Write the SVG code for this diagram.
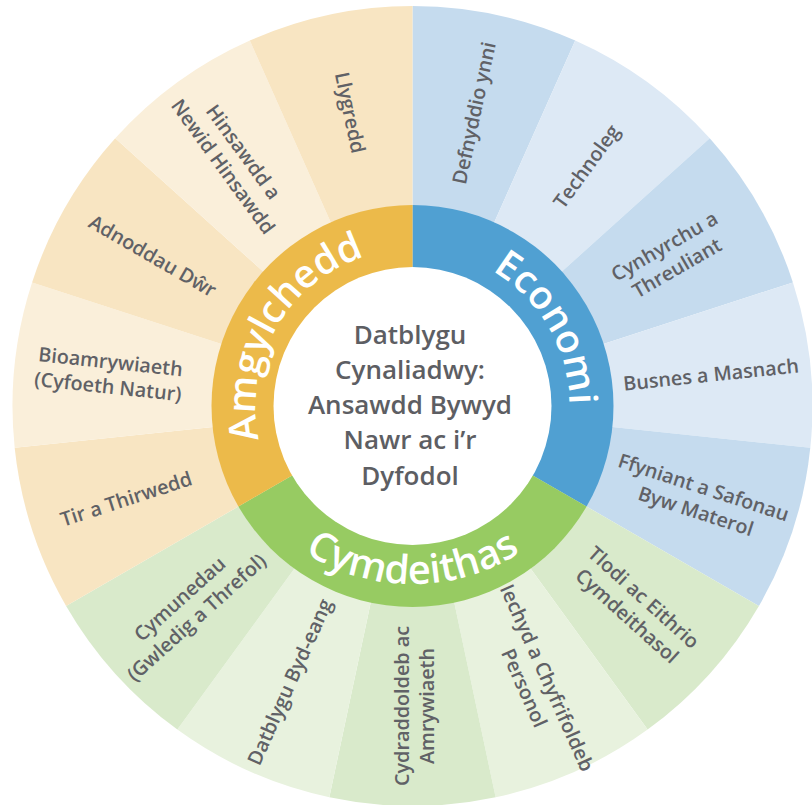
<svg xmlns="http://www.w3.org/2000/svg" width="812" height="805" viewBox="0 0 812 805">
<style>
.lbl{font-family:"Open Sans","Noto Sans","DejaVu Sans",sans-serif;font-size:19.8px;font-weight:600;fill:#606166;text-anchor:middle}
.ring{font-family:"Open Sans","Noto Sans","DejaVu Sans",sans-serif;font-size:39px;font-weight:600;fill:#ffffff}
.ctr{font-family:"Open Sans","Noto Sans","DejaVu Sans",sans-serif;font-size:26px;font-weight:600;fill:#5d5e63;text-anchor:middle}
.oD{fill:#f8e5c2}.oL{fill:#faefda}
.bD{fill:#c5dbee}.bL{fill:#dde9f5}
.gD{fill:#d9eacb}.gL{fill:#e8f2de}
</style>
<defs>
<path id="arcAmg" d="M334,541.97 A157,157 0 0 1 491,270.03"/>
<path id="arcEco" d="M334,270.03 A157,157 0 0 1 491,541.97"/>
<path id="arcCym" d="M212.5,384 A200,200 0 0 0 612.5,384"/>
</defs>
<rect width="812" height="805" fill="#ffffff"/>

<g id="seg-defnyddio">
<path class="bD" d="M412.5,406 L412.5,6 A400,400 0 0 1 575.2,40.58 Z"/>
<text class="lbl" transform="translate(474,113) rotate(-78)"><tspan x="0" y="7">Defnyddio ynni</tspan></text>
</g>
<g id="seg-technoleg">
<path class="bL" d="M412.5,406 L575.2,40.58 A400,400 0 0 1 709.76,138.35 Z"/>
<text class="lbl" transform="translate(586.5,166.5) rotate(-54)"><tspan x="0" y="7">Technoleg</tspan></text>
</g>
<g id="seg-cynhyrchu">
<path class="bD" d="M412.5,406 L709.76,138.35 A400,400 0 0 1 792.92,282.39 Z"/>
<text class="lbl" transform="translate(670.6,257) rotate(-30)"><tspan x="0" y="-5.5">Cynhyrchu a</tspan><tspan x="0" y="19.5">Threuliant</tspan></text>
</g>
<g id="seg-busnes">
<path class="bL" d="M412.5,406 L792.92,282.39 A400,400 0 0 1 810.31,447.81 Z"/>
<text class="lbl" transform="translate(711,374.6) rotate(-6)"><tspan x="0" y="7">Busnes a Masnach</tspan></text>
</g>
<g id="seg-ffyniant">
<path class="bD" d="M412.5,406 L810.31,447.81 A400,400 0 0 1 758.91,606 Z"/>
<text class="lbl" transform="translate(699.7,499.3) rotate(18)"><tspan x="0" y="-5.5">Ffyniant a Safonau</tspan><tspan x="0" y="19.5">Byw Materol</tspan></text>
</g>
<g id="seg-tlodi">
<path class="gD" d="M412.5,406 L758.91,606 A400,400 0 0 1 647.62,729.61 Z"/>
<text class="lbl" transform="translate(635.4,606.7) rotate(42)"><tspan x="0" y="-5.5">Tlodi ac Eithrio</tspan><tspan x="0" y="19.5">Cymdeithasol</tspan></text>
</g>
<g id="seg-iechyd">
<path class="gL" d="M412.5,406 L647.62,729.61 A400,400 0 0 1 495.66,797.26 Z"/>
<text class="lbl" transform="translate(535.7,682.8) rotate(66)"><tspan x="0" y="-5.5">Iechyd a Chyfrifoldeb</tspan><tspan x="0" y="19.5">Personol</tspan></text>
</g>
<g id="seg-cydraddoldeb">
<path class="gD" d="M412.5,406 L495.66,797.26 A400,400 0 0 1 329.34,797.26 Z"/>
<text class="lbl" transform="translate(414,706) rotate(-90)"><tspan x="0" y="-5.5">Cydraddoldeb ac</tspan><tspan x="0" y="19.5">Amrywiaeth</tspan></text>
</g>
<g id="seg-datblygu">
<path class="gL" d="M412.5,406 L329.34,797.26 A400,400 0 0 1 177.38,729.61 Z"/>
<text class="lbl" transform="translate(289.7,681.9) rotate(-66)"><tspan x="0" y="7">Datblygu Byd-eang</tspan></text>
</g>
<g id="seg-cymunedau">
<path class="gD" d="M412.5,406 L177.38,729.61 A400,400 0 0 1 66.09,606 Z"/>
<text class="lbl" transform="translate(188.1,608.1) rotate(-42)"><tspan x="0" y="-5.5">Cymunedau</tspan><tspan x="0" y="19.5">(Gwledig a Threfol)</tspan></text>
</g>
<g id="seg-tir">
<path class="oD" d="M412.5,406 L66.09,606 A400,400 0 0 1 14.69,447.81 Z"/>
<text class="lbl" transform="translate(126.2,499) rotate(-18)"><tspan x="0" y="7">Tir a Thirwedd</tspan></text>
</g>
<g id="seg-bioamrywiaeth">
<path class="oL" d="M412.5,406 L14.69,447.81 A400,400 0 0 1 32.08,282.39 Z"/>
<text class="lbl" transform="translate(109.2,374.1) rotate(6)"><tspan x="0" y="-5.5">Bioamrywiaeth</tspan><tspan x="0" y="19.5">(Cyfoeth Natur)</tspan></text>
</g>
<g id="seg-adnoddau">
<path class="oD" d="M412.5,406 L32.08,282.39 A400,400 0 0 1 115.24,138.35 Z"/>
<text class="lbl" transform="translate(152.7,256) rotate(30)"><tspan x="0" y="7">Adnoddau Dŵr</tspan></text>
</g>
<g id="seg-hinsawdd">
<path class="oL" d="M412.5,406 L115.24,138.35 A400,400 0 0 1 249.8,40.58 Z"/>
<text class="lbl" transform="translate(233.2,159.2) rotate(54)"><tspan x="0" y="-5.5">Hinsawdd a</tspan><tspan x="0" y="19.5">Newid Hinsawdd</tspan></text>
</g>
<g id="seg-llygredd">
<path class="oD" d="M412.5,406 L249.8,40.58 A400,400 0 0 1 412.5,6 Z"/>
<text class="lbl" transform="translate(350.1,112.6) rotate(78)"><tspan x="0" y="7">Llygredd</tspan></text>
</g>

<g id="ring-economi">
<path fill="#50a0d2" d="M412.5,406 L412.5,205 A201,201 0 0 1 586.57,506.5 Z"/>
</g>
<g id="ring-cymdeithas">
<path fill="#97cb62" d="M412.5,406 L586.57,506.5 A201,201 0 0 1 238.43,506.5 Z"/>
</g>
<g id="ring-amgylchedd">
<path fill="#ecba4a" d="M412.5,406 L238.43,506.5 A201,201 0 0 1 412.5,205 Z"/>
</g>
<g id="centre">
<circle cx="412.5" cy="406" r="139" fill="#ffffff"/>
<text class="ctr"><tspan x="410" y="344">Datblygu</tspan><tspan x="410" y="379">Cynaliadwy:</tspan><tspan x="410" y="413.5">Ansawdd Bywyd</tspan><tspan x="410" y="448.5">Nawr ac i’r</tspan><tspan x="410" y="485">Dyfodol</tspan></text>
</g>
<g id="ring-labels">
<text class="ring"><textPath href="#arcAmg" startOffset="50%" text-anchor="middle">Amgylchedd</textPath></text>
<text class="ring"><textPath href="#arcEco" startOffset="50%" text-anchor="middle">Economi</textPath></text>
<text class="ring" style="font-size:40px"><textPath href="#arcCym" startOffset="50%" text-anchor="middle">Cymdeithas</textPath></text>
</g>
</svg>
